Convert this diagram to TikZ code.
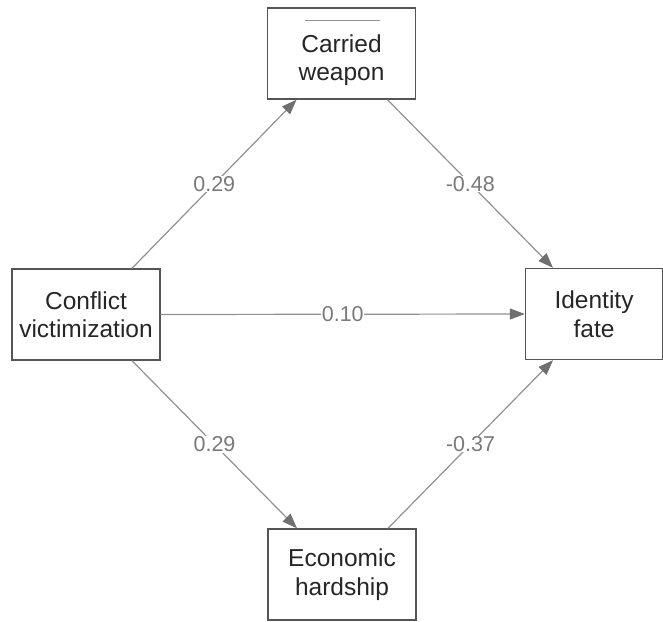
\documentclass[tikz,border=0pt]{standalone}
\usepackage{fontspec}
\setmainfont{Liberation Sans}
\usetikzlibrary{arrows.meta,calc}
\definecolor{boxline}{HTML}{555555}
\definecolor{edgegray}{HTML}{919191}
\definecolor{tipgray}{HTML}{707070}
\definecolor{coefgray}{HTML}{7A7A7A}

\begin{document}
\begin{tikzpicture}[x=1pt,y=-1pt,
    box/.style={draw=boxline, line width=1.4pt, minimum width=148pt, minimum height=91pt,
      align=center, text=black!85, font=\fontsize{24.5}{28.5}\selectfont},
    effect/.style={draw=edgegray, line width=1.2pt, -{Triangle[length=15pt,width=11pt,color=tipgray]}},
    coef/.style={text=coefgray, fill=white, inner sep=0.5pt, font=\fontsize{21.5}{24}\selectfont}]
  \useasboundingbox (0,0) rectangle (663,621);

  % variables
  \node[box] (victim) at (86,314.5) {Conflict\\victimization};
  \node[box] (weapon) at (341.5,53.5) {\rule{0pt}{31pt}Carried\\weapon};
  \node[box, minimum width=137pt] (fate) at (594,314) {Identity\\fate};
  \node[box] (hardship) at (342,574.5) {Economic\\hardship};

  % bar over the label
  \draw[edgegray, line width=1pt] ($(weapon.north)+(-37,13)$) -- ($(weapon.north)+(38,13)$);

  % paths
  \draw[effect] ([xshift=46pt]victim.north) -- ([xshift=-45pt]weapon.south) node[coef,midway] {0.29};
  \draw[effect] ([xshift=46pt]weapon.south) -- ([xshift=-41pt]fate.north) node[coef,midway] {-0.48};
  \draw[effect] (victim.east) -- (fate.west) node[coef,midway] {0.10};
  \draw[effect] ([xshift=46pt]victim.south) -- ([xshift=-45pt]hardship.north) node[coef,midway] {0.29};
  \draw[effect] ([xshift=46pt]hardship.north) -- ([xshift=-41pt]fate.south) node[coef,midway] {-0.37};
\end{tikzpicture}
\end{document}
